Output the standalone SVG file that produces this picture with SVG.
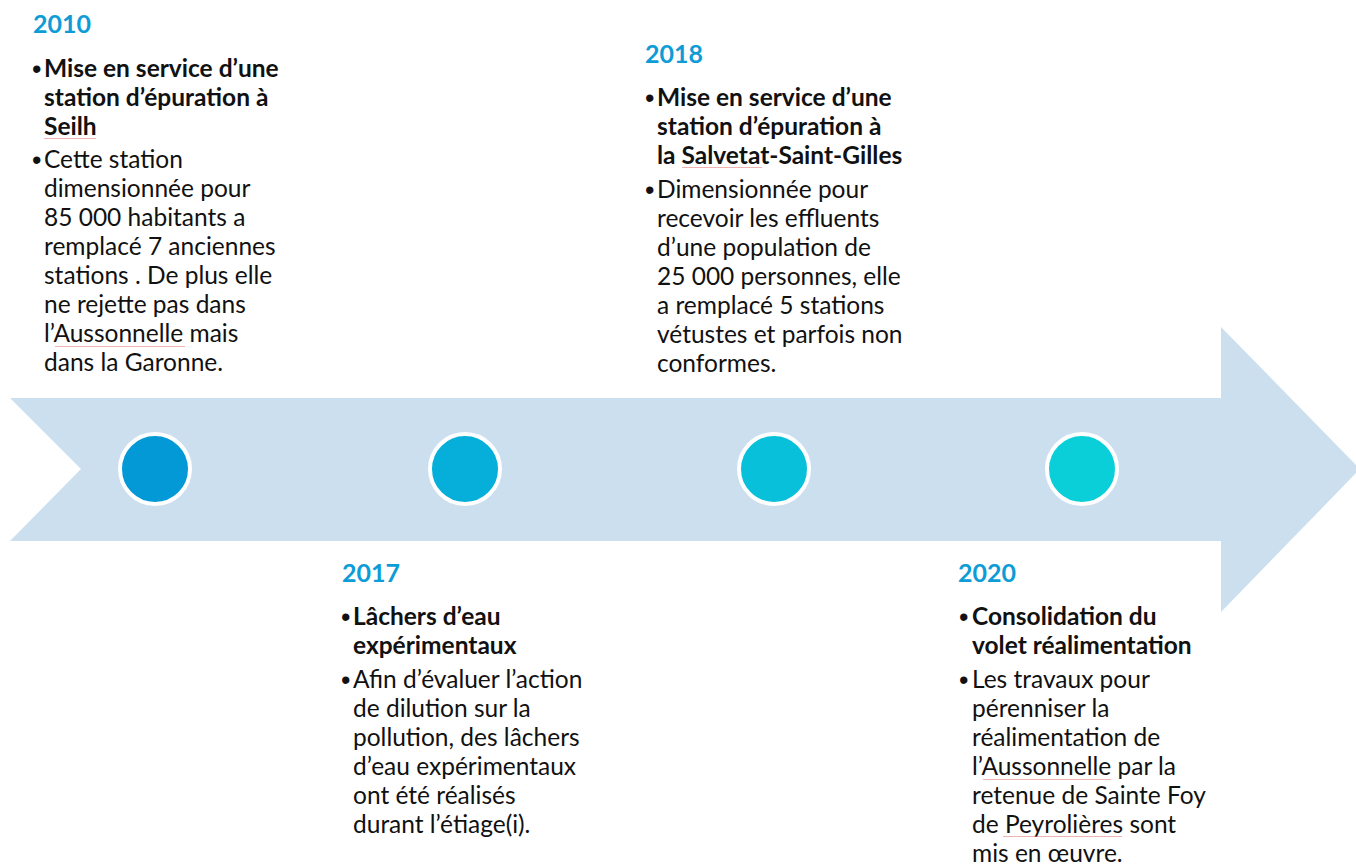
<svg xmlns="http://www.w3.org/2000/svg" width="1356" height="865" viewBox="0 0 1356 865">
  <style>
    .year { font-family: Lato, "Liberation Sans", sans-serif; font-weight: 700; font-size: 25px; fill: #0E9CD6; }
    .t { font-family: Lato, "Liberation Sans", sans-serif; font-size: 24.5px; fill: #111111; }
    .b { font-weight: 700; }
    .bul { font-family: "Liberation Sans", sans-serif; font-size: 27px; fill: #111111; }
    .dot { stroke: #ffffff; stroke-width: 4; }
    .spell { stroke: #E57373; stroke-width: 1; fill: none; opacity: 0.55; }
  </style>

  <!-- timeline arrow -->
  <g id="timeline-arrow">
    <polygon points="10,398 1221,398 1221,327 1360,469 1221,612 1221,541 10,541 81,469" fill="#CCDFEF"/>
  </g>

  <!-- milestone markers -->
  <g id="markers">
    <circle class="dot" cx="155" cy="469" r="35" fill="#0399D6"/>
    <circle class="dot" cx="465" cy="469" r="35" fill="#05AFDA"/>
    <circle class="dot" cx="774" cy="469" r="35" fill="#08C0D9"/>
    <circle class="dot" cx="1082" cy="469" r="35" fill="#0ACFD9"/>
  </g>

  <!-- 2010 -->
  <g id="event-2010">
    <text class="year" x="33" y="33">2010</text>
    <text class="bul" x="32" y="78">•</text>
    <text class="t b" x="44" y="77">Mise en service d’une</text>
    <text class="t b" x="44" y="106">station d’épuration à</text>
    <text class="t b" x="44" y="135">Seilh</text>
    <text class="bul" x="32" y="169">•</text>
    <text class="t" x="44" y="168">Cette station</text>
    <text class="t" x="44" y="197">dimensionnée pour</text>
    <text class="t" x="44" y="226">85 000 habitants a</text>
    <text class="t" x="44" y="255">remplacé 7 anciennes</text>
    <text class="t" x="44" y="284">stations . De plus elle</text>
    <text class="t" x="44" y="313">ne rejette pas dans</text>
    <text class="t" x="44" y="342">l’Aussonnelle mais</text>
    <text class="t" x="44" y="371">dans la Garonne.</text>
  </g>

  <!-- 2018 -->
  <g id="event-2018">
    <text class="year" x="645" y="63">2018</text>
    <text class="bul" x="645" y="107">•</text>
    <text class="t b" x="657" y="106">Mise en service d’une</text>
    <text class="t b" x="657" y="135">station d’épuration à</text>
    <text class="t b" x="657" y="164">la Salvetat-Saint-Gilles</text>
    <text class="bul" x="645" y="199">•</text>
    <text class="t" x="657" y="198">Dimensionnée pour</text>
    <text class="t" x="657" y="227">recevoir les effluents</text>
    <text class="t" x="657" y="256">d’une population de</text>
    <text class="t" x="657" y="285">25 000 personnes, elle</text>
    <text class="t" x="657" y="314">a remplacé 5 stations</text>
    <text class="t" x="657" y="343">vétustes et parfois non</text>
    <text class="t" x="657" y="372">conformes.</text>
  </g>

  <!-- 2017 -->
  <g id="event-2017">
    <text class="year" x="342" y="582">2017</text>
    <text class="bul" x="341" y="626">•</text>
    <text class="t b" x="353" y="625">Lâchers d’eau</text>
    <text class="t b" x="353" y="654">expérimentaux</text>
    <text class="bul" x="341" y="689">•</text>
    <text class="t" x="353" y="688">Afin d’évaluer l’action</text>
    <text class="t" x="353" y="717">de dilution sur la</text>
    <text class="t" x="353" y="746">pollution, des lâchers</text>
    <text class="t" x="353" y="775">d’eau expérimentaux</text>
    <text class="t" x="353" y="804">ont été réalisés</text>
    <text class="t" x="353" y="833">durant l’étiage(i).</text>
  </g>

  <!-- 2020 -->
  <g id="event-2020">
    <text class="year" x="958" y="582">2020</text>
    <text class="bul" x="959" y="626">•</text>
    <text class="t b" x="972" y="625">Consolidation du</text>
    <text class="t b" x="972" y="654">volet réalimentation</text>
    <text class="bul" x="959" y="689">•</text>
    <text class="t" x="972" y="688">Les travaux pour</text>
    <text class="t" x="972" y="717">pérenniser la</text>
    <text class="t" x="972" y="746">réalimentation de</text>
    <text class="t" x="972" y="775">l’Aussonnelle par la</text>
    <text class="t" x="972" y="804">retenue de Sainte Foy</text>
    <text class="t" x="972" y="833">de Peyrolières sont</text>
    <text class="t" x="972" y="862">mis en œuvre.</text>
  </g>

  <!-- proofing underlines -->
  <g id="proofing">
    <line class="spell" x1="44" y1="138.5" x2="96" y2="138.5"/>
    <line class="spell" x1="55" y1="346.5" x2="185" y2="346.5"/>
    <line class="spell" x1="682" y1="167.5" x2="762" y2="167.5"/>
    <line class="spell" x1="983" y1="779.5" x2="1111" y2="779.5"/>
    <line class="spell" x1="1003" y1="836.5" x2="1122" y2="836.5"/>
  </g>
</svg>
